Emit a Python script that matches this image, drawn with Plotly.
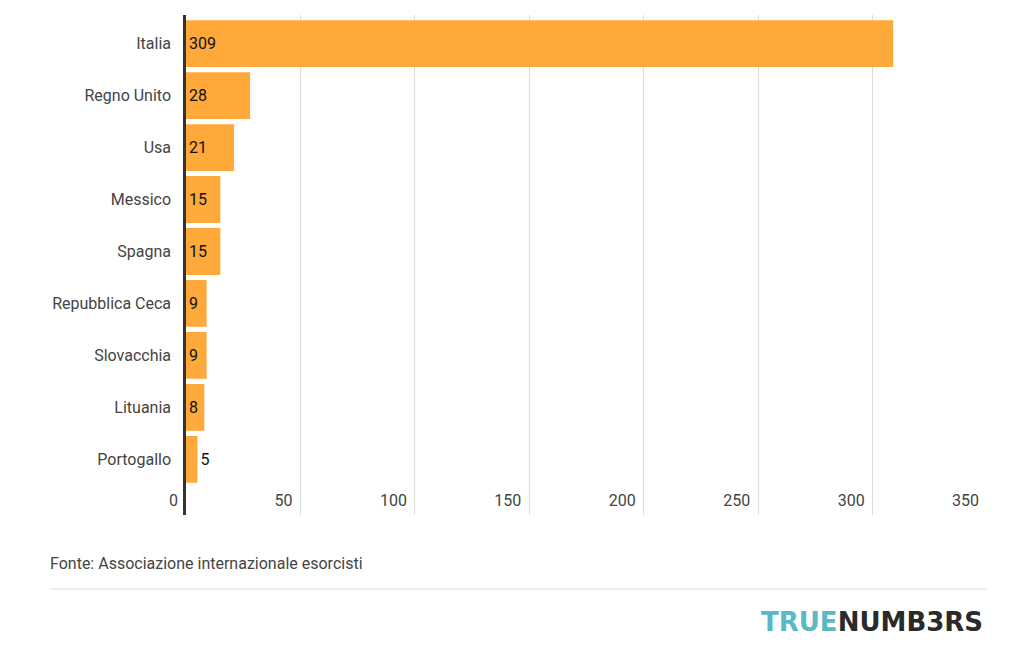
import plotly.graph_objects as go

countries = ["Italia", "Regno Unito", "Usa", "Messico", "Spagna",
             "Repubblica Ceca", "Slovacchia", "Lituania", "Portogallo"]
values = [309, 28, 21, 15, 15, 9, 9, 8, 5]
x_ticks = [0, 50, 100, 150, 200, 250, 300, 350]

positions = ["inside"] * (len(values) - 1) + ["outside"]

# page body has an 8px margin: figure sized/offset to compensate
W, H = 1013, 629
L, T = 178, 7
PW, PH = 801, 500

fig = go.Figure(go.Bar(
    x=values, y=countries, orientation="h",
    marker=dict(color="#ffa93b", line=dict(width=0)),
    text=[str(v) for v in values],
    textposition=positions,
    insidetextanchor="start",
    textfont=dict(family="Roboto", size=16, color="#111111"),
    cliponaxis=False,
    hoverinfo="skip",
))

fig.update_layout(
    width=W, height=H,
    margin=dict(l=L, r=W - L - PW, t=T, b=H - T - PH),
    paper_bgcolor="white", plot_bgcolor="white",
    bargap=0.1,
    showlegend=False,
    font=dict(family="Roboto", size=16, color="#444444"),
    xaxis=dict(
        range=[0, 350], tickvals=x_ticks,
        ticktext=[str(t) + "\u00a0\u00a0" for t in x_ticks],
        showgrid=True, gridcolor="#dddddd", gridwidth=1,
        ticklabelposition="inside left", ticklabeloverflow="allow",
        zeroline=False, showline=False,
        tickfont=dict(family="Roboto", size=16, color="#444444"),
        fixedrange=True,
    ),
    yaxis=dict(
        type="category", categoryorder="array", categoryarray=countries,
        range=[9.07, -0.55],
        showline=True, linecolor="#333333", linewidth=2.5,
        showgrid=False, zeroline=False, ticks="",
        ticklabelstandoff=9,
        tickfont=dict(family="Roboto", size=16, color="#444444"),
        fixedrange=True,
    ),
    shapes=[dict(type="line", xref="paper", yref="paper",
                 x0=-136 / PW, x1=1.0, y0=-74 / PH, y1=-74 / PH,
                 line=dict(color="#dddddd", width=1))],
    annotations=[
        dict(text="Fonte: Associazione internazionale esorcisti",
             xref="paper", yref="paper", x=-138 / PW, y=-48 / PH,
             xanchor="left", yanchor="middle", showarrow=False,
             font=dict(family="Roboto", size=16, color="#444444")),
        dict(text="<b><span style='color:#5ab9c5'>TRUE</span><span style='color:#2a2a2a'>NUMB3RS</span></b>",
             xref="paper", yref="paper", x=(PW - 3) / PW, y=-107 / PH,
             xanchor="right", yanchor="middle", valign="middle",
             height=26, borderpad=0, showarrow=False,
             font=dict(family="DejaVu Sans", size=26)),
    ],
)

fig.write_html("out.html")
